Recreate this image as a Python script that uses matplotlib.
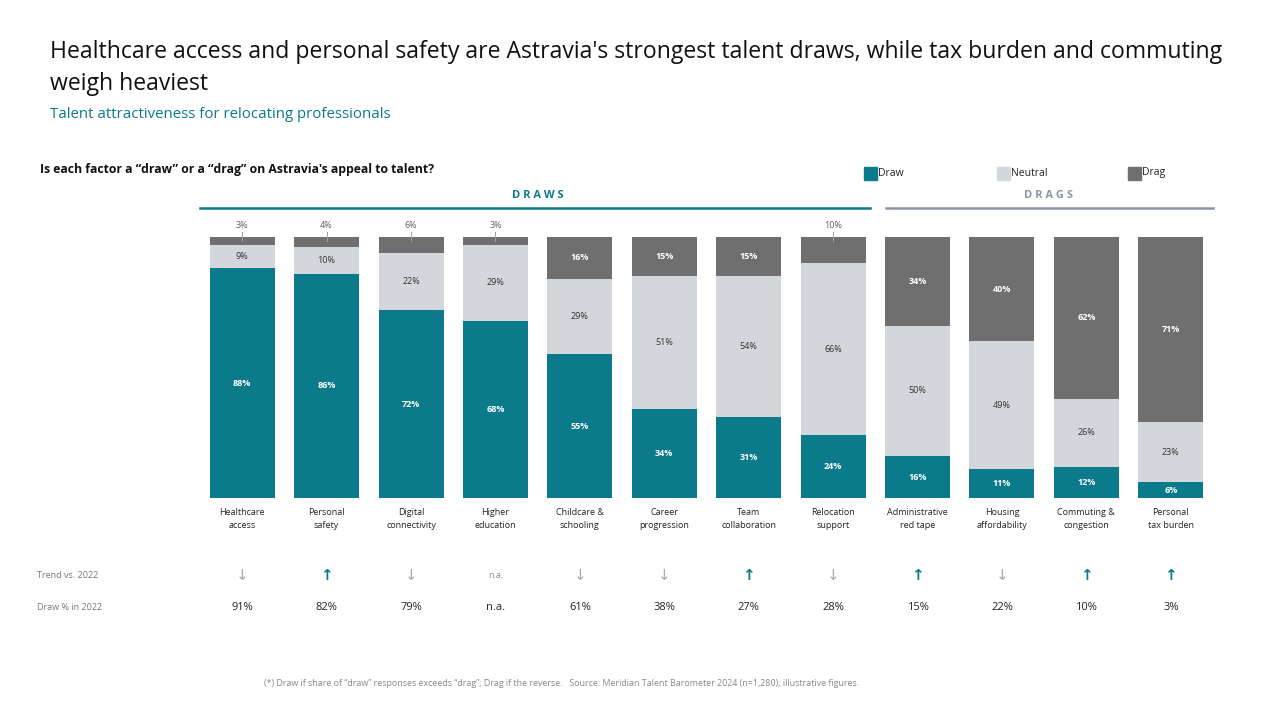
import numpy as np
import matplotlib
matplotlib.use("Agg")
import matplotlib.pyplot as plt
from matplotlib.patches import Rectangle
from matplotlib.lines import Line2D
import matplotlib.transforms as mtrans

plt.rcParams['font.family'] = ['Open Sans', 'DejaVu Sans']

# data
categories = ["Healthcare\naccess", "Personal\nsafety", "Digital\nconnectivity", "Higher\neducation",
              "Childcare &\nschooling", "Career\nprogression", "Team\ncollaboration", "Relocation\nsupport",
              "Administrative\nred tape", "Housing\naffordability", "Commuting &\ncongestion", "Personal\ntax burden"]
draw = [88, 86, 72, 68, 55, 34, 31, 24, 16, 11, 12, 6]
neutral = [9, 10, 22, 29, 29, 51, 54, 66, 50, 49, 26, 23]
drag = [3, 4, 6, 3, 16, 15, 15, 10, 34, 40, 62, 71]
trend = ["down", "up", "down", "n.a.", "down", "down", "up", "down", "up", "down", "up", "up"]
draw_2022 = ["91%", "82%", "79%", "n.a.", "61%", "38%", "27%", "28%", "15%", "22%", "10%", "3%"]
n_draws = 8  # first 8 factors are draws, rest are drags

TEAL = "#0b7a8b"
NEUTRAL = "#d3d6da"
DRAG = "#6f6f6f"
SLATE = "#8c94a6"
ARROW_DOWN = "#a3abbb"

W, H = 1280, 720
fig = plt.figure(figsize=(12.8, 7.2), dpi=100)

def fx(px):
    return px / W

def fy(py):
    return 1 - py / H

ax = fig.add_axes([fx(200), fy(498), fx(1213) - fx(200), (498 - 237) / H])
x = np.arange(len(categories))
bw = 0.77
draw = np.array(draw)
neutral = np.array(neutral)
drag = np.array(drag)

ax.bar(x, draw, bw, color=TEAL)
ax.bar(x, neutral, bw, bottom=draw, color=NEUTRAL)
ax.bar(x, drag, bw, bottom=draw + neutral, color=DRAG)
ax.set_xlim(-0.5, len(categories) - 0.5)
ax.set_ylim(0, 100)
ax.axis("off")

lbl_font = dict(fontsize=6.5, fontweight="bold")
for i in range(len(x)):
    ax.text(x[i], draw[i] / 2, f"{draw[i]}%", ha="center", va="center", color="white", **lbl_font)
    ax.text(x[i], draw[i] + neutral[i] / 2, f"{neutral[i]}%", ha="center", va="center", color="#333333",
            fontsize=6.5)
    if drag[i] > 10:
        ax.text(x[i], draw[i] + neutral[i] + drag[i] / 2, f"{drag[i]}%", ha="center", va="center",
                color="white", **lbl_font)
    else:
        # small drag shares are labelled above the bar with a leader tick
        ax.plot([x[i], x[i]], [100 - 1.5, 102.0], color="#a0a0a0", lw=0.7, clip_on=False)
        ax.text(x[i], 102.8, f"{drag[i]}%", ha="center", va="bottom", color="#606060", fontsize=6.5)

# row texts using blended transform (data x, figure y)
bt = mtrans.blended_transform_factory(ax.transData, fig.transFigure)
for i in range(len(x)):
    ax.text(x[i], fy(519), categories[i], transform=bt, ha="center", va="center", fontsize=6.5,
            color="#222222", linespacing=1.5)
    t = trend[i]
    if t == "up":
        ax.text(x[i], fy(576), "↑", transform=bt, ha="center", va="center", fontsize=11,
                color=TEAL, fontweight="bold", family="DejaVu Sans")
    elif t == "down":
        ax.text(x[i], fy(576), "↓", transform=bt, ha="center", va="center", fontsize=11,
                color=ARROW_DOWN, family="DejaVu Sans")
    else:
        ax.text(x[i], fy(576), "n.a.", transform=bt, ha="center", va="center", fontsize=6.5,
                color="#8a8a8a")
    ax.text(x[i], fy(608), draw_2022[i], transform=bt, ha="center", va="center", fontsize=8,
            color="#222222")

fig.text(fx(37), fy(576), "Trend vs. 2022", ha="left", va="center", fontsize=6.5, color="#777777")
fig.text(fx(37), fy(608), "Draw % in 2022", ha="left", va="center", fontsize=6.5, color="#777777")

# group headers
x0 = x[0] - 0.5
x1 = x[n_draws - 1] + 0.5
fig.add_artist(Line2D([fx(200), fx(870)], [fy(208), fy(208)], color=TEAL, lw=1.8))
fig.add_artist(Line2D([fx(886), fx(1213)], [fy(208), fy(208)], color=SLATE, lw=1.8))
ax.text((x0 + x1) / 2, fy(196), "D R A W S", transform=bt, ha="center", va="center", fontsize=8,
        fontweight="bold", color=TEAL)
ax.text(x[n_draws] + 1.55, fy(196), "D R A G S", transform=bt, ha="center", va="center", fontsize=8,
        fontweight="bold", color=SLATE)

# legend
for px, name, col in [(864, "Draw", TEAL), (997, "Neutral", NEUTRAL), (1128, "Drag", DRAG)]:
    fig.add_artist(Rectangle((fx(px), fy(180)), fx(13), 13 / H, color=col, transform=fig.transFigure))
    fig.text(fx(px + 14), fy(173), name, ha="left", va="center", fontsize=7.5, color="#222222")

# titles
fig.text(fx(50), fy(52), "Healthcare access and personal safety are Astravia's strongest talent draws, while tax burden and commuting",
         ha="left", va="center", fontsize=16.6, color="#111111")
fig.text(fx(50), fy(84), "weigh heaviest", ha="left", va="center", fontsize=16.6, color="#111111")
fig.text(fx(50), fy(115), "Talent attractiveness for relocating professionals", ha="left", va="center",
         fontsize=10.8, color=TEAL)
fig.text(fx(40), fy(169), "Is each factor a “draw” or a “drag” on Astravia's appeal to talent?", ha="left",
         va="center", fontsize=8.8, fontweight="bold", color="#111111")

fig.text(fx(562), fy(683), "(*) Draw if share of “draw” responses exceeds “drag”; Drag if the reverse.   Source: Meridian Talent Barometer 2024 (n=1,280); illustrative figures.",
         ha="center", va="center", fontsize=6.4, color="#888888")

fig.savefig("out.png", dpi=100)
